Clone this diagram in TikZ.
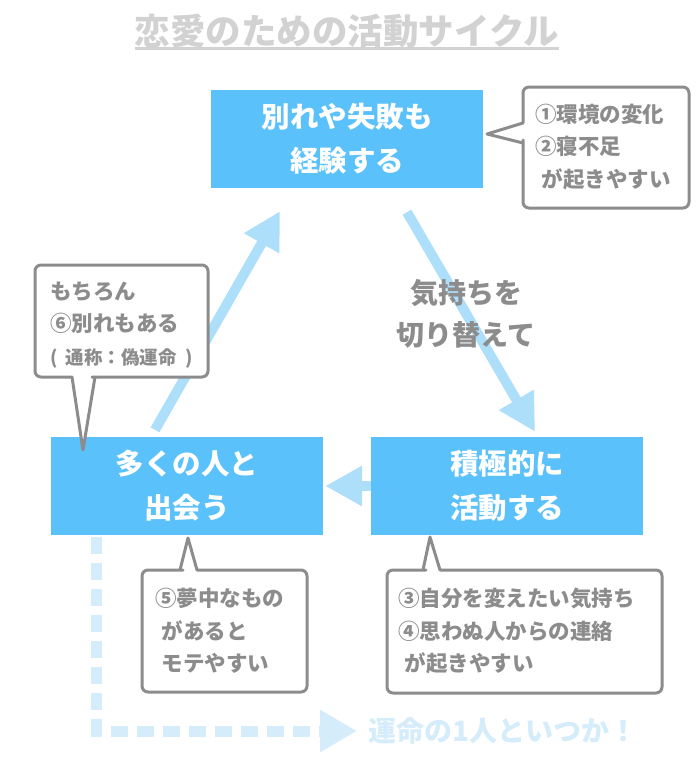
\documentclass[tikz,border=0pt]{standalone}
\usepackage{fontspec}
\setmainfont{Noto Sans CJK JP}
\usetikzlibrary{arrows.meta,calc}

\definecolor{boxblue}{HTML}{5BC1FA}
\definecolor{arrowblue}{HTML}{ADDEFA}
\definecolor{paleblue}{HTML}{D5ECFB}
\definecolor{notegray}{HTML}{8C8C8C}
\definecolor{titlegray}{HTML}{D2D2D2}

\tikzset{
	stage/.style={fill=boxblue,text=white,minimum width=272pt,minimum height=98pt,
		align=center,inner sep=0pt,font=\bfseries\fontsize{28.5}{44}\selectfont},
	note/.style={draw=notegray,line width=3pt,fill=white,line join=round},
	notetext/.style={text=notegray,anchor=west,align=left,inner sep=0pt,
		font=\bfseries\fontsize{21.5}{32.5}\selectfont},
	flow/.style={draw=arrowblue,line width=10pt,-{Triangle[length=37pt,width=38pt]}},
}

\begin{document}
\begin{tikzpicture}[x=1pt,y=-1pt]
	\useasboundingbox (0,0) rectangle (699,760);

	% title
	\node [inner sep=0pt,text=titlegray,font=\bfseries\fontsize{35.5}{40}\selectfont] (title) at (347,31) {恋愛のための活動サイクル};
	\draw [titlegray,line width=3pt] (title.west |- 0,49) -- (title.east |- 0,49);

	% the three stages
	\node [stage] (lesson) at (347,139) {別れや失敗も\\経験する};
	\node [stage] (meet) at (187,486) {多くの人と\\出会う};
	\node [stage] (act) at (507,486) {積極的に\\活動する};

	% cycle arrows
	\draw [flow] ($(meet.north)+(-32,-7)$) -- ($(lesson.south)+(-67,23)$);
	\draw [flow] ($(lesson.south)+(60,24)$) -- ($(act.north)+(28,-5)$);
	\draw [flow,shorten >=2pt] (act.west) -- (meet.east);

	\node [text=notegray,align=center,inner sep=0pt,font=\bfseries\fontsize{28}{42}\selectfont] (switch) at (466,314) {気持ちを\\切り替えて};

	% way out
	\node [anchor=west,inner sep=0pt,text=paleblue,font=\bfseries\fontsize{28}{30}\selectfont] (destiny) at (368,731) {運命の1人といつか！};
	\draw [paleblue,line width=11pt,dash pattern=on 17pt off 9pt,shorten >=11pt,
		-{Triangle[length=37pt,width=40pt]}] ($(meet.south west)+(46,2)$) |- (destiny.west);

	% callouts
	\draw [note,rounded corners=6pt] (606,87) -- (689,87) -- (689,208) -- (523,208) -- (523,146)
		[sharp corners] -- (523,143) -- (487,134) -- (523,123) -- (523,120)
		[rounded corners=6pt] -- (523,87) -- cycle;
	\node [notetext] (noteA) at (535,147) {①環境の変化\\②寝不足\\\hspace*{.3em}が起きやすい};

	\draw [note,rounded corners=6pt] (120,265) -- (208,265) -- (208,377) -- (98,377)
		[sharp corners] -- (95,377) -- (83,450) -- (72,377) -- (69,377)
		[rounded corners=6pt] -- (35,377) -- (35,265) -- cycle;
	\node [notetext] (noteF) at (50,325) {もちろん\\⑥別れもある\\{\fontsize{18.5}{32.5}\selectfont (\hspace{.45em}通称：偽運命\hspace{.45em})}};

	\draw [note,rounded corners=6pt] (225,692) -- (142,692) -- (142,570) -- (177,570)
		[sharp corners] -- (180,570) -- (188,538) -- (197,570) -- (200,570)
		[rounded corners=6pt] -- (307,570) -- (307,692) -- cycle;
	\node [notetext] (noteE) at (155,631) {⑤夢中なもの\\\hspace*{.3em}があると\\\hspace*{.3em}モテやすい};

	\draw [note,rounded corners=6pt] (520,693) -- (387,693) -- (387,570) -- (420,570)
		[sharp corners] -- (423,570) -- (430,537) -- (440,570) -- (443,570)
		[rounded corners=6pt] -- (662,570) -- (662,693) -- cycle;
	\node [notetext] (noteC) at (398,631) {③自分を変えたい気持ち\\④思わぬ人からの連絡\\\hspace*{.3em}が起きやすい};

\end{tikzpicture}
\end{document}
